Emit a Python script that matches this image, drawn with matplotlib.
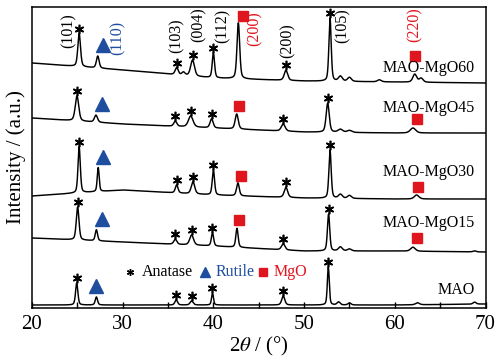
import numpy as np
import matplotlib
matplotlib.use('Agg')
import matplotlib.pyplot as plt
from matplotlib.transforms import offset_copy
from matplotlib.ticker import MultipleLocator

plt.rcParams['font.family'] = ['Liberation Serif', 'DejaVu Serif']
plt.rcParams['mathtext.fontset'] = 'stix'

# --- data (intensity in arbitrary units) ---
samples = ['MAO-MgO60', 'MAO-MgO45', 'MAO-MgO30', 'MAO-MgO15', 'MAO']

# background level of each pattern at these angles
base_2theta = [20, 30, 40, 50, 60, 70]
base_mgo60 = [245, 238, 230, 227, 226, 225]
base_mgo45 = [190, 184, 180, 176, 175, 175]
base_mgo30 = [112, 118, 113, 110, 109, 109]
base_mgo15 = [70, 66, 62, 57, 57, 56]
base_mao = [3, 3, 3, 3, 3, 4]

# peaks: position (2theta), height above background, FWHM
pos_mgo60 = [25.2, 27.25, 35.95, 36.7, 37.7, 40.0, 42.75, 48.0, 52.86, 54.0, 55.0, 58.3, 62.2, 62.9]
h_mgo60 = [33, 12, 7, 3, 16, 25, 56, 10, 63, 5, 4, 2, 8, 4]
w_mgo60 = [0.35, 0.35, 0.4, 0.4, 0.5, 0.3, 0.35, 0.45, 0.3, 0.5, 0.5, 0.5, 0.5, 0.5]

pos_mgo45 = [24.96, 27.05, 35.8, 37.5, 39.8, 42.57, 47.7, 52.6, 54.0, 55.0, 62.0]
h_mgo45 = [25, 7, 5, 11, 9, 15, 7, 29, 3, 2, 5]
w_mgo45 = [0.45, 0.4, 0.4, 0.6, 0.4, 0.4, 0.5, 0.4, 0.6, 0.6, 0.7]

pos_mgo30 = [25.2, 27.3, 35.95, 37.75, 40.0, 42.7, 48.0, 52.86, 54.0, 55.0, 62.4]
h_mgo30 = [46, 24, 8, 12, 25, 13, 10, 48, 4, 3, 4]
w_mgo30 = [0.3, 0.25, 0.35, 0.45, 0.3, 0.35, 0.45, 0.3, 0.5, 0.5, 0.6]

pos_mgo15 = [25.03, 27.1, 35.8, 37.6, 39.9, 42.6, 47.7, 52.7, 54.0, 55.0, 62.0, 68.8]
h_mgo15 = [33, 11, 5, 10, 13, 19, 6, 37, 4, 2, 4, 1]
w_mgo15 = [0.35, 0.3, 0.4, 0.5, 0.3, 0.3, 0.45, 0.3, 0.5, 0.5, 0.6, 0.4]

pos_mao = [24.93, 27.1, 35.9, 37.6, 39.9, 47.7, 52.67, 53.8, 55.0, 62.5, 68.8]
h_mao = [22, 8, 5, 4, 12, 9, 38, 3, 2, 2, 2]
w_mao = [0.3, 0.3, 0.35, 0.4, 0.25, 0.4, 0.25, 0.4, 0.4, 0.5, 0.4]

# phase identification marks
anatase_mgo60 = [25.2, 35.95, 37.7, 40.0, 48.0, 52.86]
anatase_mgo45 = [24.96, 35.8, 37.5, 39.8, 47.7, 52.6]
anatase_mgo30 = [25.2, 35.95, 37.75, 40.0, 48.0, 52.86]
anatase_mgo15 = [25.03, 35.8, 37.6, 39.9, 47.7, 52.7]
anatase_mao = [24.93, 35.9, 37.6, 39.9, 47.7, 52.67]

rutile_peak = [27.25, 27.05, 27.3, 27.1, 27.1]
rutile_mark = [27.8, 27.7, 27.8, 27.7, 27.1]

mgo_peak = [[42.75, 62.2], [42.57, 62.0], [42.7, 62.4], [42.6, 62.0], []]
mgo_mark = [[43.25, 62.2], [42.8, 62.45], [43.0, 62.55], [42.8, 62.4], []]
mgo_gap = [[7, 18], [8, 9], [7, 8], [8, 9], []]   # px above the peak top

hkl_labels = ['(101)', '(110)', '(103)', '(004)', '(112)', '(200)', '(200)', '(105)', '(220)']
hkl_phase = ['A', 'R', 'A', 'A', 'A', 'M', 'A', 'A', 'M']

bases = [base_mgo60, base_mgo45, base_mgo30, base_mgo15, base_mao]
positions = [pos_mgo60, pos_mgo45, pos_mgo30, pos_mgo15, pos_mao]
heights = [h_mgo60, h_mgo45, h_mgo30, h_mgo15, h_mao]
widths = [w_mgo60, w_mgo45, w_mgo30, w_mgo15, w_mao]
anatase = [anatase_mgo60, anatase_mgo45, anatase_mgo30, anatase_mgo15, anatase_mao]

BLUE = '#1f4e9f'
RED = '#e0161e'

fig = plt.figure(figsize=(4.95, 3.63), dpi=100)
ax = fig.add_axes([32 / 495, 1 - 308 / 363, 453.5 / 495, 301 / 363])

tt = np.linspace(20, 70, 3001)


def pattern(base, pos, h, w):
    y = np.interp(tt, base_2theta, base)
    for p, hh, ww in zip(pos, h, w):
        g = np.exp(-4 * np.log(2) * ((tt - p) / ww) ** 2)
        l = 1 / (1 + ((tt - p) / (ww / 2)) ** 2)
        y = y + hh * (0.6 * g + 0.4 * l)
    return y


def top_near(y, p, half=0.3):
    m = (tt > p - half) & (tt < p + half)
    return y[m].max()


star_tr = offset_copy(ax.transData, fig=fig, y=5, units='dots')
tri_tr = offset_copy(ax.transData, fig=fig, y=11, units='dots')

for i, name in enumerate(samples):
    y = pattern(bases[i], positions[i], heights[i], widths[i])
    ax.plot(tt, y, color='black', lw=1.05)
    for p in anatase[i]:
        ax.plot(p, top_near(y, p), marker=(6, 2, 0), ms=6.8, mew=1.2,
                color='black', transform=star_tr)
    ax.plot(rutile_mark[i], top_near(y, rutile_peak[i]), marker='^', ms=10.5,
            color=BLUE, mec=BLUE, transform=tri_tr)
    for pk, mk, gap in zip(mgo_peak[i], mgo_mark[i], mgo_gap[i]):
        tr = offset_copy(ax.transData, fig=fig, y=gap, units='dots')
        ax.plot(mk, top_near(y, pk), marker='s', ms=6.8, color=RED, mec=RED,
                transform=tr)

# sample names
name_y = [240, 200, 136, 85, 18]
for name, yy in zip(samples, name_y):
    ax.text(68.85, yy, name, ha='right', va='center', fontsize=11.5)

# Miller indices
hkl_x = [24.08, 29.48, 35.99, 38.41, 41.06, 44.59, 48.22, 54.29, 62.23]
hkl_y = [277, 270, 272, 283, 282, 279, 267, 282, 283]
phase_col = {'A': 'black', 'R': BLUE, 'M': RED}
for lab, ph, xx, yy in zip(hkl_labels, hkl_phase, hkl_x, hkl_y):
    ax.text(xx, yy, lab, rotation=90, ha='center', va='center',
            fontsize=11.5, color=phase_col[ph])

# legend
ly = 36
ax.plot(30.8, ly, marker=(6, 2, 0), ms=5, mew=1, color='black')
ax.text(32.1, ly, 'Anatase', va='center', fontsize=11.5)
ax.plot(39.07, ly, marker='^', ms=7.5, color=BLUE, mec=BLUE)
ax.text(40.2, ly, 'Rutile', va='center', fontsize=11.5, color=BLUE)
ax.plot(45.47, ly, marker='s', ms=5.5, color=RED, mec=RED)
ax.text(46.6, ly, 'MgO', va='center', fontsize=11.5, color=RED)

ax.set_xlim(20, 70)
ax.set_ylim(0, 301)
ax.set_yticks([])
ax.xaxis.set_major_locator(MultipleLocator(10))
ax.xaxis.set_minor_locator(MultipleLocator(5))
ax.tick_params(axis='x', which='both', direction='in', length=4, width=1,
               labelsize=15, pad=5)
for s in ax.spines.values():
    s.set_linewidth(1.1)

ax.set_xlabel(r'2$\theta$ / (°)', fontsize=15, labelpad=1)
ax.set_ylabel('Intensity / (a.u.)', fontsize=15, labelpad=4)

fig.savefig('out.png', dpi=100)
